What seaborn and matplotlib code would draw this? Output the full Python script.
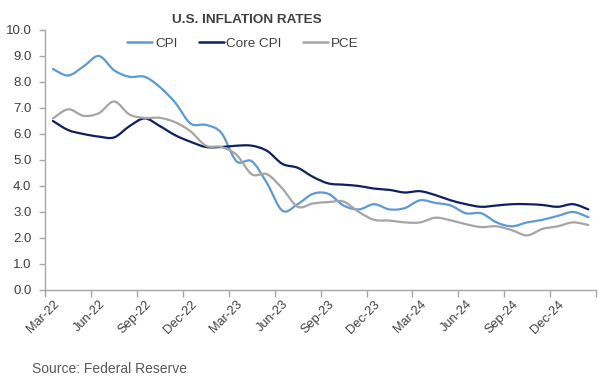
import numpy as np
import pandas as pd
import matplotlib
matplotlib.use("Agg")
import matplotlib.pyplot as plt
from matplotlib.path import Path
from matplotlib.patches import PathPatch
from matplotlib.lines import Line2D
import seaborn as sns

months = ["Mar-22", "Apr-22", "May-22", "Jun-22", "Jul-22", "Aug-22", "Sep-22", "Oct-22", "Nov-22",
          "Dec-22", "Jan-23", "Feb-23", "Mar-23", "Apr-23", "May-23", "Jun-23", "Jul-23", "Aug-23",
          "Sep-23", "Oct-23", "Nov-23", "Dec-23", "Jan-24", "Feb-24", "Mar-24", "Apr-24", "May-24",
          "Jun-24", "Jul-24", "Aug-24", "Sep-24", "Oct-24", "Nov-24", "Dec-24", "Jan-25", "Feb-25"]
cpi = [8.5, 8.25, 8.6, 9.0, 8.45, 8.2, 8.2, 7.8, 7.2, 6.4, 6.35, 6.05, 4.95, 4.95, 4.1, 3.05, 3.3, 3.7,
       3.7, 3.25, 3.1, 3.3, 3.1, 3.15, 3.45, 3.35, 3.25, 2.95, 2.95, 2.6, 2.45, 2.6, 2.7, 2.85, 3.0, 2.8]
core_cpi = [6.5, 6.15, 6.0, 5.9, 5.87, 6.3, 6.6, 6.3, 5.95, 5.7, 5.5, 5.5, 5.55, 5.55, 5.35, 4.85, 4.7, 4.35,
            4.1, 4.05, 4.0, 3.9, 3.85, 3.75, 3.8, 3.65, 3.45, 3.3, 3.2, 3.25, 3.3, 3.3, 3.27, 3.2, 3.3, 3.1]
pce = [6.6, 6.95, 6.7, 6.8, 7.25, 6.75, 6.62, 6.62, 6.45, 6.1, 5.55, 5.5, 5.2, 4.45, 4.45, 3.9, 3.2, 3.33,
       3.38, 3.4, 3.0, 2.7, 2.67, 2.6, 2.6, 2.78, 2.68, 2.53, 2.42, 2.45, 2.3, 2.1, 2.35, 2.45, 2.6, 2.5]
series_names = ["CPI", "Core CPI", "PCE"]
colors = ["#5B9BD5", "#0B2160", "#A5A5A5"]
yticks = [0, 1, 2, 3, 4, 5, 6, 7, 8, 9, 10]

sns.set_style("white")
plt.rcParams["font.family"] = ["Liberation Sans", "DejaVu Sans"]
text_color = "#404040"

df = pd.DataFrame({
    "idx": list(range(len(months))) * 3,
    "value": cpi + core_cpi + pce,
    "series": sum([[n] * len(months) for n in series_names], []),
})

fig = plt.figure(figsize=(6.13, 3.81), dpi=100)
ax = fig.add_axes([45.3 / 613, 1 - 290 / 381, (596 - 45.3) / 613, 260 / 381])

sns.lineplot(data=df, x="idx", y="value", hue="series", palette=dict(zip(series_names, colors)),
             linewidth=1.6, ax=ax, legend=False, hue_order=series_names)


def smooth_path(xy):
    # Excel-style smoothed line: cubic Bezier segments through each point
    n = len(xy)
    verts = [xy[0]]
    codes = [Path.MOVETO]
    for i in range(n - 1):
        p0 = xy[i - 1] if i > 0 else xy[i]
        p1 = xy[i]
        p2 = xy[i + 1]
        p3 = xy[i + 2] if i + 2 < n else xy[i + 1]
        c1 = p1 + (p2 - p0) / 6.0
        c2 = p2 - (p3 - p1) / 6.0
        verts += [c1, c2, p2]
        codes += [Path.CURVE4] * 3
    return Path(np.array(verts), codes)


for line, c in zip(ax.get_lines(), colors):
    xy = np.asarray(line.get_xydata())
    line.set_visible(False)
    patch = PathPatch(smooth_path(xy), facecolor="none", edgecolor=c, linewidth=1.6,
                      capstyle="round", joinstyle="round")
    ax.add_patch(patch)

ax.set_xlim(-0.5, len(months) - 0.5)
ax.set_ylim(0, 10)
ax.set_yticks(yticks)
ax.set_yticklabels([f"{v:.1f}" for v in yticks])
ax.set_xticks(np.arange(-0.5, len(months), 3))
ax.set_xticklabels([])
ax.set_xticks(np.arange(0, len(months), 3), minor=True)
ax.set_xticklabels(months[::3], minor=True, rotation=45, ha="right", va="top",
                   rotation_mode="anchor")
ax.set_xlabel("")
ax.set_ylabel("")

spine_c = "#A6A6A6"
for s in ["top", "right"]:
    ax.spines[s].set_visible(False)
for s in ["left", "bottom"]:
    ax.spines[s].set_color(spine_c)
    ax.spines[s].set_linewidth(1.0)
ax.tick_params(axis="y", which="major", left=True, length=4, width=1, color=spine_c,
               labelsize=9.5, labelcolor=text_color, pad=6)
ax.tick_params(axis="x", which="major", bottom=True, length=5, width=1, color=spine_c)
ax.tick_params(axis="x", which="minor", bottom=True, length=0, labelsize=9.2,
               labelcolor=text_color, pad=6)

fig.text(247 / 613, 1 - 20 / 381, "U.S. INFLATION RATES", ha="center", va="center",
         fontsize=9.7, fontweight="bold", color=text_color)

handles = [Line2D([0], [0], color=c, lw=1.8) for c in colors]
fig.legend(handles, series_names, loc="center", bbox_to_anchor=(243 / 613, 1 - 44 / 381),
           ncol=3, frameon=False, fontsize=9.7, handlelength=1.85, handletextpad=0.2,
           columnspacing=1.6, labelcolor=text_color)

fig.text(32 / 613, 1 - 369 / 381, "Source: Federal Reserve", ha="left", va="center",
         fontsize=10, color="#595959")

fig.savefig("out.png", dpi=100)
